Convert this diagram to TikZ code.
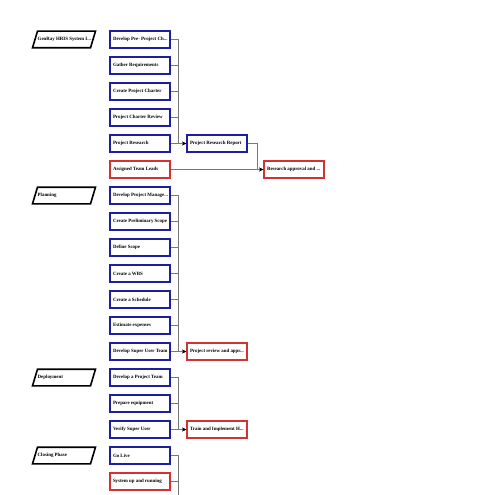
\documentclass[tikz,border=0pt]{standalone}
\usepackage{fontspec}
\setmainfont{Liberation Serif}
\usetikzlibrary{arrows.meta}
\definecolor{boxblue}{RGB}{30,30,160}
\definecolor{boxred}{RGB}{210,50,50}
\definecolor{conngray}{RGB}{120,120,120}
\newcommand\lbl[1]{\makebox[54pt][l]{#1}}
\newcommand\phaseshape[1]{\draw[phaseline] (32.5,#1+8.3) -- (37.5,#1-8.3) -- (95.5,#1-8.3) -- (90.5,#1+8.3) -- cycle;}
\tikzset{
  base/.style={rectangle, fill=white, line width=1.6pt, minimum width=60pt, minimum height=17pt,
    inner xsep=3pt, inner ysep=0pt, font=\fontsize{4.9}{5.5}\selectfont\bfseries, anchor=center},
  task/.style={base, draw=boxblue},
  mile/.style={base, draw=boxred},
  phaseline/.style={draw=black, line width=1.6pt, fill=white},
  phasetext/.style={font=\fontsize{4.9}{5.5}\selectfont\bfseries, anchor=west, inner sep=0pt},
  conn/.style={draw=conngray, line width=0.5pt},
  arr/.style={conn, -{Stealth[length=4pt,width=3.6pt,black]}},
}
\begin{document}
\begin{tikzpicture}[x=1pt,y=-1pt]
\useasboundingbox (0,0) rectangle (495,495);
\fill[white] (0,0) rectangle (495,495);
% phases
\phaseshape{39.5}
\node[phasetext] (ph1) at (37.5,39.5) {GenRay HRIS System I...};
\phaseshape{195.5}
\node[phasetext] (ph2) at (37.5,195.5) {Planning};
\phaseshape{377.5}
\node[phasetext] (ph3) at (37.5,377.5) {Deployment};
\phaseshape{455.5}
\node[phasetext] (ph4) at (37.5,455.5) {Closing Phase};
% column 1
\node[task] (a1) at (140,39.5) {\lbl{Develop Pre- Project Ch...}};
\node[task] (a2) at (140,65.5) {\lbl{Gather Requirements}};
\node[task] (a3) at (140,91.5) {\lbl{Create Project Charter}};
\node[task] (a4) at (140,117.5) {\lbl{Project Charter Review}};
\node[task] (a5) at (140,143.5) {\lbl{Project Research}};
\node[mile] (a6) at (140,169.5) {\lbl{Assigned Team Leads}};
\node[task] (b1) at (140,195.5) {\lbl{Develop Project Manage...}};
\node[task] (b2) at (140,221.5) {\lbl{Create Preliminary Scope}};
\node[task] (b3) at (140,247.5) {\lbl{Define Scope}};
\node[task] (b4) at (140,273.5) {\lbl{Create a WBS}};
\node[task] (b5) at (140,299.5) {\lbl{Create a Schedule}};
\node[task] (b6) at (140,325.5) {\lbl{Estimate expenses}};
\node[task] (b7) at (140,351.5) {\lbl{Develop Super User Team}};
\node[task] (c1) at (140,377.5) {\lbl{Develop a Project Team}};
\node[task] (c2) at (140,403.5) {\lbl{Prepare equipment}};
\node[task] (c3) at (140,429.5) {\lbl{Verify Super User}};
\node[task] (d1) at (140,455.5) {\lbl{Go Live}};
\node[mile] (d2) at (140,481.5) {\lbl{System up and running}};
% column 2/3
\node[task] (rep) at (217,143.5) {\lbl{Project Research Report}};
\node[mile] (ra) at (294,169.5) {\lbl{Research approval and ...}};
\node[mile] (pr) at (217,351.5) {\lbl{Project review and appr...}};
\node[mile] (ti) at (217,429.5) {\lbl{Train and Implement H...}};
\coordinate (bot) at (178.5,495);
% connectors group 1
\foreach \n in {a2,a3,a4}{ \draw[conn] (\n.east) -- (\n.east -| bot); }
\draw[arr] (a1.east) -| (bot |- a1.east) |- (rep.west);
\draw[arr] (a5.east) -- (rep.west);
\draw[arr] (rep.east) -- ++(9,0) |- (ra.west);
\draw[arr] (a6.east) -- (ra.west);
% group 2
\foreach \n in {b2,b3,b4,b5,b6}{ \draw[conn] (\n.east) -- (\n.east -| bot); }
\draw[arr] (b1.east) -| (bot |- b1.east) |- (pr.west);
\draw[arr] (b7.east) -- (pr.west);
% group 3
\draw[conn] (c2.east) -- (c2.east -| bot);
\draw[arr] (c1.east) -| (bot |- c1.east) |- (ti.west);
\draw[arr] (c3.east) -- (ti.west);
% group 4
\draw[conn] (d1.east) -| (bot);
\draw[conn] (d2.east) -- (d2.east -| bot);
\end{tikzpicture}
\end{document}
